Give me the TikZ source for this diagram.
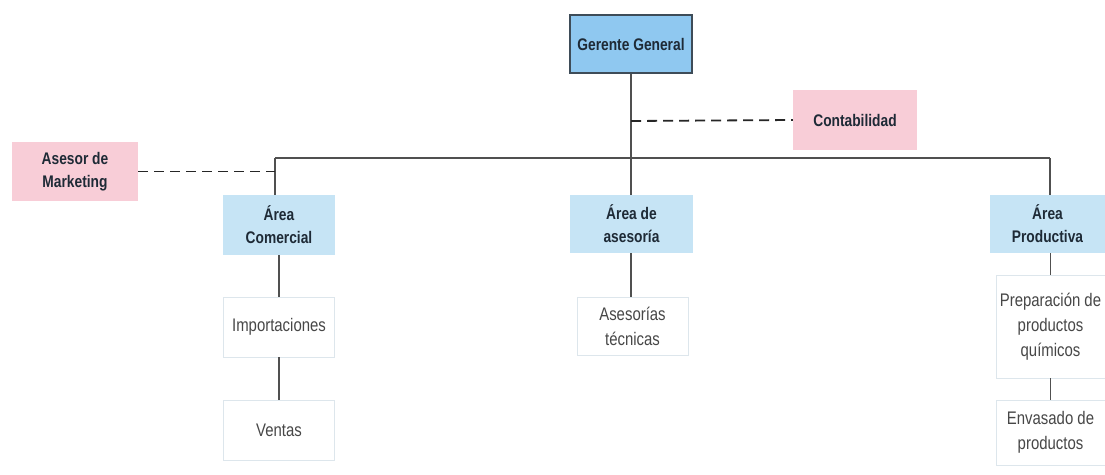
\documentclass[tikz,border=0pt]{standalone}
\usepackage{fontspec}
\newfontfamily\narrowfont[FakeStretch=0.82]{Liberation Sans}
\definecolor{gblue}{HTML}{8FC8F0}
\definecolor{ablue}{HTML}{C6E4F5}
\definecolor{pinkc}{HTML}{F8CDD7}
\definecolor{bordc}{HTML}{3E4C58}
\definecolor{linec}{HTML}{505050}
\definecolor{boldtxt}{HTML}{1E2A36}
\definecolor{regtxt}{HTML}{474747}
\definecolor{faint}{HTML}{DDE6EC}
\begin{document}
\begin{tikzpicture}[x=1pt,y=-1pt,
  base/.style={rectangle,inner sep=2pt,align=center,anchor=center},
  boldbox/.style={base,text=boldtxt,font=\narrowfont\bfseries\fontsize{16.8}{23}\selectfont},
  topbox/.style={boldbox,fill=gblue,draw=bordc,line width=1.3pt},
  areabox/.style={boldbox,fill=ablue},
  pinkbox/.style={boldbox,fill=pinkc},
  subbox/.style={base,fill=white,draw=faint,line width=0.8pt,text=regtxt,font=\narrowfont\fontsize{18.2}{25}\selectfont},
  conn/.style={draw=linec,line width=1.8pt},
  dconn/.style={draw=black!85,line width=1.8pt,dash pattern=on 10pt off 6pt}]
\useasboundingbox (0,0) rectangle (1105,474);
\fill[white] (0,0) rectangle (1105,474);
% nodes
\node[topbox,minimum width=122pt,minimum height=58pt] (GG) at (631,44) {Gerente General};
\node[pinkbox,minimum width=124pt,minimum height=60pt] (CT) at (855,120) {Contabilidad};
\node[pinkbox,minimum width=126pt,minimum height=59pt] (AM) at (75,171.5) {Asesor de\\Marketing};
\node[areabox,minimum width=112pt,minimum height=60pt] (AC) at (279,225) {Área\\Comercial};
\node[areabox,minimum width=123pt,minimum height=58pt] (AA) at (631.5,224) {Área de\\asesoría};
\node[areabox,minimum width=115pt,minimum height=58pt] (AP) at (1047.5,224) {Área\\Productiva};
\node[subbox,minimum width=111pt,minimum height=60pt] (IM) at (279,327) {Importaciones};
\node[subbox,minimum width=111pt,minimum height=60pt] (VE) at (279,430) {Ventas};
\node[subbox,minimum width=111pt,minimum height=58pt] (AT) at (632.5,326) {Asesorías\\técnicas};
\node[subbox,minimum width=109pt,minimum height=103pt] (PP) at (1050.5,326.5) {Preparación de\\productos\\químicos};
\node[subbox,minimum width=109pt,minimum height=65pt] (EP) at (1050.5,432.5) {Envasado de\\productos};
% coordinates
\coordinate (hl) at (275,158);
\coordinate (hr) at (1050,158);
\coordinate (cj) at (631,121);
% connectors
\draw[conn] (GG.south -| cj) -- (AA.north -| cj);
\draw[conn] (hl) -- (hr);
\draw[conn] (hl) -- (AC.north -| hl);
\draw[conn] (hr) -- (AP.north -| hr);
\draw[conn] (AC.south) -- (IM.north);
\draw[conn] (IM.south) -- (VE.north);
\draw[conn] (AT.north -| cj) -- (AA.south -| cj);
\draw[conn] (AP.south -| PP.north) -- (PP.north);
\draw[conn] (PP.south) -- (EP.north);
\draw[dconn] (cj) -- (CT.west);
\draw[dconn] (AM.east) -- (AM.east -| hl);
\end{tikzpicture}
\end{document}
